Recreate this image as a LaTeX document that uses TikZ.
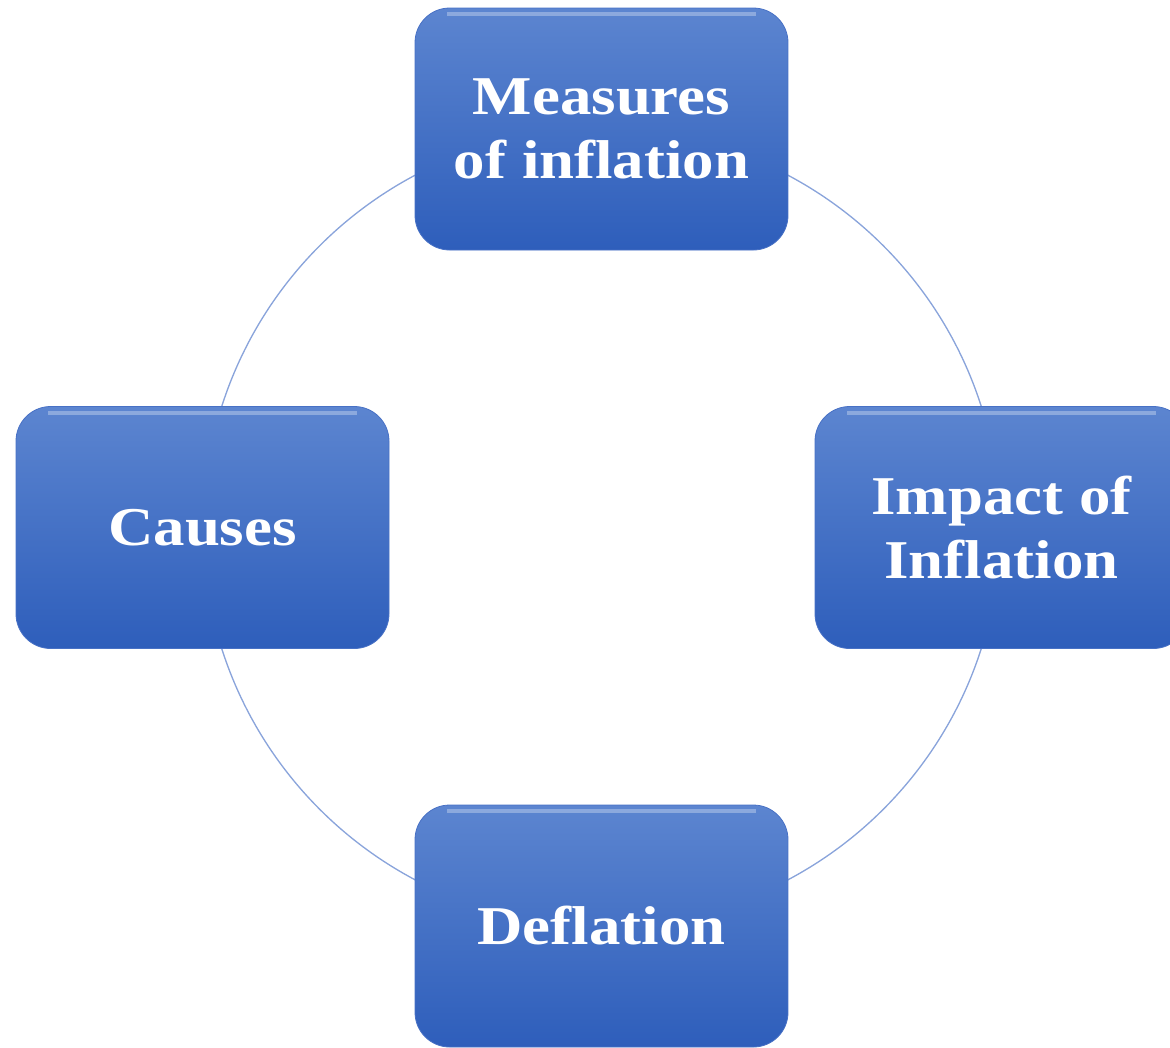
\documentclass[tikz,border=0pt]{standalone}
\usepackage{fontspec}
\setmainfont{Liberation Serif}[FakeStretch=1.15]
\usepackage{xcolor}
\definecolor{boxtop}{RGB}{92,133,208}
\definecolor{boxbot}{RGB}{46,94,187}
\definecolor{boxedge}{RGB}{72,113,197}
\definecolor{ringblue}{RGB}{138,164,219}

\begin{document}
\begin{tikzpicture}[x=0.75pt,y=0.75pt,yscale=-1,xscale=1,
    box/.style={rectangle, rounded corners=26pt, minimum width=279.75pt, minimum height=181.5pt,
        top color=boxtop, bottom color=boxbot, draw=boxedge, line width=0.6pt,
        text=white, align=center, inner sep=0pt,
        font=\fontsize{41}{48}\selectfont\bfseries,
        path picture={\fill[white, opacity=.3, sharp corners] ([xshift=24pt,yshift=-3pt]path picture bounding box.north west) rectangle ([xshift=-24pt,yshift=-6pt]path picture bounding box.north east);}},
    ring/.style={draw=ringblue, line width=1pt}]
    \useasboundingbox (0,0) rectangle (1170,1047);

    %Shape: Circle [id:centre]
    \coordinate (centre) at (601.5,527.5);
    \draw [ring] (centre) circle (398.5);

    % Text Node
    \node [box] (measures) at (601.5,129) {Measures\\of inflation};
    % Text Node
    \node [box] (impact) at (1001.5,527.5) {Impact of\\Inflation};
    % Text Node
    \node [box] (deflation) at (601.5,926) {Deflation};
    % Text Node
    \node [box] (causes) at (202.5,527.5) {Causes};

\end{tikzpicture}
\end{document}
